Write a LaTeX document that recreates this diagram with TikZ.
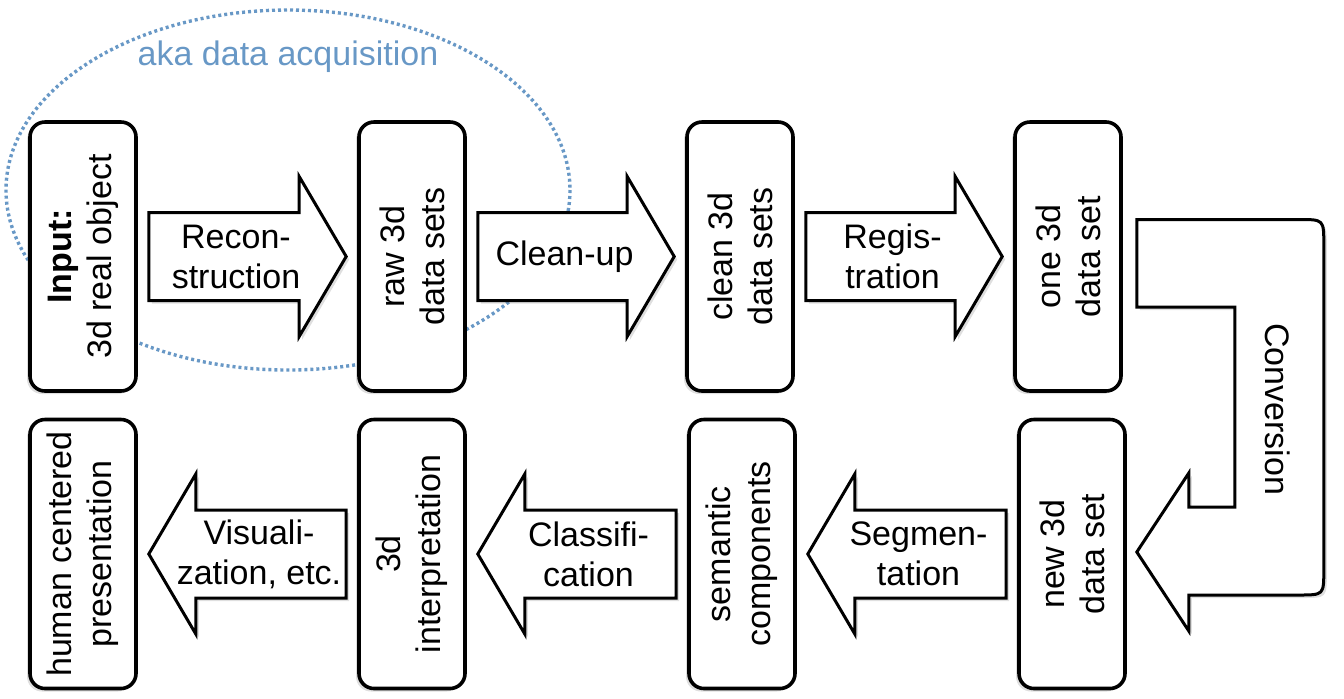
\documentclass[tikz,border=0pt]{standalone}
\usepackage{fontspec}
\setmainfont{Liberation Sans}
\usepackage{tikz}
\usetikzlibrary{calc}
\usetikzlibrary{shadows}
\definecolor{acqblue}{RGB}{104,152,198}
\newcommand{\FlowArrow}[5]{% name, from, to, direction, label
    \draw[blockarrow] ($(#2)+({(#4)*11},-44)$) -- ($(#3)+({-(#4)*58},-44)$) -- ($(#3)+({-(#4)*58},-80)$) -- ($(#3)+({(#4)*-11},0)$) -- ($(#3)+({-(#4)*58},80)$) -- ($(#3)+({-(#4)*58},44)$) -- ($(#2)+({(#4)*11},44)$) -- cycle;
    \node[flowtext] (#1) at ($(#2)!0.5!(#3)+({-(#4)*11.5},0)$) {#5};%
}

\begin{document}
\begin{tikzpicture}[x=0.5pt,y=-0.5pt,
    bigfont/.style={font=\fontsize{17}{20}\selectfont},
    stage/.style={bigfont,draw,line width=1.8pt,fill=white,rounded corners=7.5pt,rotate=90,align=center,inner sep=0pt,minimum width=134.5pt,minimum height=53pt,
        drop shadow={shadow xshift=-1.5pt,shadow yshift=-1.5pt,opacity=0.25}},
    blockarrow/.style={draw,line width=1.5pt,fill=white,line join=miter,
        drop shadow={shadow xshift=1.5pt,shadow yshift=-1.5pt,opacity=0.25}},
    flowtext/.style={bigfont,align=center,inner sep=0pt},
    acqline/.style={draw=acqblue,line width=1.7pt,dash pattern=on 1.5pt off 1.5pt}]
    \useasboundingbox (0,0) rectangle (1344,698);

    \draw[acqline] (288,190) ellipse [x radius=282,y radius=180];
    \node[bigfont,text=acqblue,inner sep=0pt] (acq) at (288,57) {aka data acquisition};

    % boxes are turned by 90 degrees: south is their right side, north their left side
    \node[stage] (input) at (83,256.5) {\textbf{Input:}\\3d real object};
    \node[stage] (raw) at (412,256.5) {raw 3d\\data sets};
    \node[stage] (clean) at (740,256.5) {clean 3d\\data sets};
    \node[stage] (one) at (1068,256.5) {one 3d\\data set};
    \node[stage] (human) at (83,554) {human centered\\presentation};
    \node[stage] (interp) at (412,554) {3d\\interpretation};
    \node[stage] (sem) at (742,554) {semantic\\components};
    \node[stage] (new) at (1072,554) {new 3d\\data set};

    \FlowArrow{recon}{input.south}{raw.north}{1}{Recon-\\struction}
    \FlowArrow{cleanup}{raw.south}{clean.north}{1}{Clean-up}
    \FlowArrow{regis}{clean.south}{one.north}{1}{Regis-\\tration}
    \FlowArrow{segm}{new.north}{sem.south}{-1}{Segmen-\\tation}
    \FlowArrow{classif}{sem.north}{interp.south}{-1}{Classifi-\\cation}
    \FlowArrow{visual}{interp.north}{human.south}{-1}{Visuali-\\zation, etc.}

    \draw[blockarrow] ($(one.south)+(14,-37)$) -- ($(one.south)+(176,-37)$)
        .. controls ($(one.south)+(201,-37)$) .. ($(one.south)+(201,-12)$)
        -- ($(new.south)+(197,16)$)
        .. controls ($(new.south)+(197,41)$) .. ($(new.south)+(172,41)$)
        -- ($(new.south)+(62,41)$) -- ($(new.south)+(62,77)$)
        -- ($(new.south)+(10,-2)$)
        -- ($(new.south)+(62,-81)$) -- ($(new.south)+(62,-47)$)
        -- ($(new.south)+(108,-47)$)
        -- ($(one.south)+(112,50.5)$) -- ($(one.south)+(14,50.5)$) -- cycle;
    \node[flowtext,rotate=-90] (conv) at (1278,409) {Conversion};
\end{tikzpicture}
\end{document}
